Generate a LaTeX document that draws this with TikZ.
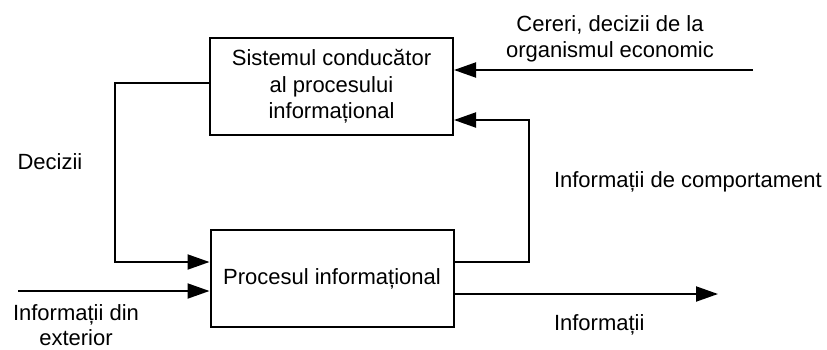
\documentclass[tikz,border=0pt]{standalone}
\usepackage{fontspec}
\setmainfont{Liberation Sans}
\usetikzlibrary{arrows.meta}
\begin{document}
\begin{tikzpicture}[x=1pt,y=-1pt,line width=2pt,
  txt/.style={font=\fontsize{22}{26.5}\selectfont,align=center,inner sep=0pt},
  blok/.style={draw,line width=2pt,minimum width=243pt,minimum height=97pt,
    txt,inner sep=0pt},
  flow/.style={-{Triangle[length=22pt,width=15pt]}}]
\useasboundingbox (0,0) rectangle (827,349);

% the two blocks
\node[blok] (top) at (331.5,86.5) {Sistemul conducător\\al procesului\\informațional};
\node[blok] (bot) at (332,278.5) {Procesul informațional};

% free ends of the external flows
\coordinate (src) at (753,70);
\coordinate (ext) at (18,291);
\coordinate (out) at (718,294);

% decisions: from the managing system down to the process
\draw[flow] (top.west |- 0,83) -- (115,83) -- (115,262) -- (bot.west |- 0,262);
% behaviour information fed back to the managing system
\draw[flow] (bot.east |- 0,262) -- (529,262) -- (529,120) -- (top.east |- 0,120);
% requests from the economic organism
\draw[flow] (src) -- (top.east |- src);
% external information
\draw[flow] (ext) -- (bot.west |- ext);
% output information
\draw[flow] (bot.east |- out) -- (out);

% labels
\node[txt] (lreq) at (610,39) {Cereri, decizii de la\\organismul economic};
\node[txt] (ldec) at (50,162) {Decizii};
\node[txt,anchor=west] (lbeh) at (553,182) {Informații de comportament};
\node[txt,anchor=west] (lout) at (553,325) {Informații};
\node[txt,font=\fontsize{22}{25}\selectfont] (lext) at (76,325) {Informații din\\exterior};
\end{tikzpicture}
\end{document}
